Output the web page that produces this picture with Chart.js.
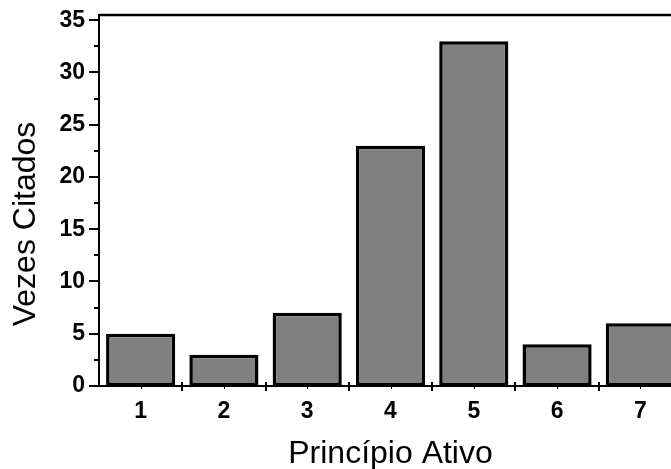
<!DOCTYPE html>
<html>
<head>
<meta charset="utf-8">
<script src="https://cdn.jsdelivr.net/npm/chart.js@4.4.1/dist/chart.umd.min.js"></script>
<style>
  html, body { margin: 0; padding: 0; background: #fff; overflow: hidden; }
  #wrap { width: 682px; height: 469px; }
</style>
</head>
<body>
<div id="wrap"><canvas id="chart" width="682" height="469"></canvas></div>
<script>
// Number of times each active ingredient was cited
const categories = ['1', '2', '3', '4', '5', '6', '7'];
const citations = [5, 3, 7, 23, 33, 4, 6];
const yTickValues = [0, 5, 10, 15, 20, 25, 30, 35];
const yMinorValues = [2.5, 7.5, 12.5, 17.5, 22.5, 27.5, 32.5];
const xTitle = 'Princípio Ativo';
const yTitle = 'Vezes Citados';

const FONT = '"Liberation Sans", Arial, Helvetica, sans-serif';

// Frame, tick marks and axis titles drawn from the chart's scales
const framePlugin = {
  id: 'frame',
  afterDraw(chart) {
    const ctx = chart.ctx;
    const area = chart.chartArea;
    const xs = chart.scales.x;
    const ys = chart.scales.y;
    ctx.save();
    ctx.strokeStyle = '#000';
    ctx.lineCap = 'butt';

    // top border and left axis
    ctx.lineWidth = 2.5;
    ctx.beginPath();
    ctx.moveTo(area.left, area.top);
    ctx.lineTo(chart.width, area.top);
    ctx.stroke();

    ctx.lineWidth = 2;
    ctx.beginPath();
    ctx.moveTo(area.left, area.top - 1);
    ctx.lineTo(area.left, area.bottom + 1);
    ctx.stroke();

    // bottom axis
    ctx.beginPath();
    ctx.moveTo(area.left - 1, area.bottom);
    ctx.lineTo(chart.width, area.bottom);
    ctx.stroke();

    // y major / minor ticks
    yTickValues.forEach(v => {
      const y = Math.round(ys.getPixelForValue(v));
      ctx.beginPath();
      ctx.moveTo(area.left - 10, y);
      ctx.lineTo(area.left, y);
      ctx.stroke();
    });
    yMinorValues.forEach(v => {
      const y = Math.round(ys.getPixelForValue(v));
      ctx.beginPath();
      ctx.moveTo(area.left - 5, y);
      ctx.lineTo(area.left, y);
      ctx.stroke();
    });

    // x ticks at category boundaries (crossing the axis)
    for (let i = 1; i < categories.length; i++) {
      const x = Math.round((xs.getPixelForValue(i - 1) + xs.getPixelForValue(i)) / 2);
      ctx.beginPath();
      ctx.moveTo(x, area.bottom - 4);
      ctx.lineTo(x, area.bottom + 5);
      ctx.stroke();
    }
    // small marks at category centres
    ctx.lineWidth = 1;
    categories.forEach((c, i) => {
      const x = Math.round(xs.getPixelForValue(i)) + 0.5;
      ctx.beginPath();
      ctx.moveTo(x, area.bottom - 2);
      ctx.lineTo(x, area.bottom + 3);
      ctx.stroke();
    });

    // axis titles
    ctx.fillStyle = '#000';
    ctx.font = '32px ' + FONT;
    ctx.textAlign = 'center';
    ctx.textBaseline = 'alphabetic';
    ctx.fillText(xTitle, (area.left + area.right) / 2, 463);

    ctx.translate(35, 224);
    ctx.rotate(-Math.PI / 2);
    ctx.fillText(yTitle, 0, 0);
    ctx.restore();
  }
};

new Chart(document.getElementById('chart'), {
  type: 'bar',
  data: {
    labels: categories,
    datasets: [{
      data: citations,
      backgroundColor: '#808080',
      borderColor: '#000',
      borderWidth: 3.5,
      borderSkipped: false,
      categoryPercentage: 1,
      barPercentage: 0.83
    }]
  },
  options: {
    responsive: false,
    animation: false,
    devicePixelRatio: 1,
    layout: { padding: { top: 15, left: 0, right: 0, bottom: 0 } },
    plugins: { legend: { display: false }, tooltip: { enabled: false } },
    scales: {
      x: {
        grid: { display: false, drawTicks: false },
        border: { display: false },
        ticks: {
          color: '#000',
          font: { family: FONT, size: 23, weight: 'bold' },
          padding: 12,
          maxRotation: 0,
          autoSkip: false
        },
        afterFit(scale) {
          scale.height = 83;
          scale.paddingLeft = 0;
          scale.paddingRight = 0;
        }
      },
      y: {
        min: 0,
        max: 35.5,
        grid: { display: false, drawTicks: false },
        border: { display: false },
        ticks: {
          color: '#000',
          font: { family: FONT, size: 23, weight: 'bold' },
          padding: 14
        },
        afterBuildTicks(scale) { scale.ticks = yTickValues.map(v => ({ value: v })); },
        afterFit(scale) {
          scale.width = 99;
          scale.paddingTop = 0;
          scale.paddingBottom = 0;
        }
      }
    }
  },
  plugins: [framePlugin]
});
</script>
</body>
</html>
